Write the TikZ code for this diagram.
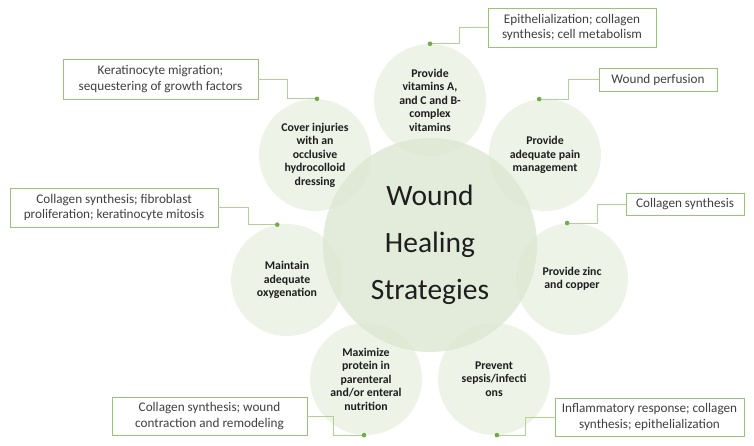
\documentclass[tikz,border=0pt]{standalone}
\usepackage{fontspec}
\setmainfont{Carlito}
\usepackage{tikz}
\usetikzlibrary{calc}
\definecolor{hubfill}{RGB}{222,232,212}
\definecolor{petalfill}{RGB}{232,240,225}
\definecolor{boxline}{RGB}{150,196,120}
\definecolor{linkline}{RGB}{176,210,152}
\definecolor{dotgreen}{RGB}{112,173,71}
\definecolor{inktext}{RGB}{30,30,30}

\begin{document}
\begin{tikzpicture}[x=1pt, y=-1pt,
		petal/.style={circle, fill=petalfill, fill opacity=0.8, text opacity=1, minimum size=112pt, inner sep=0pt, align=center, text=inktext, font=\fontsize{11.8}{13.5}\selectfont\bfseries},
		hub/.style={circle, fill=hubfill, fill opacity=0.85, text opacity=1, minimum size=214pt, inner sep=0pt, align=center, text=inktext, font=\fontsize{29.5}{47}\selectfont},
		infobox/.style={draw=boxline, line width=0.8pt, fill=white, inner sep=0pt, align=center, text=inktext!85, font=\fontsize{13.2}{15.5}\selectfont},
		link/.style={linkline, line width=0.7pt}]
		
		\useasboundingbox (0,0) rectangle (754,446);
		
		% petals round the hub
		\node[petal] (vit) at (430,100) {Provide\\vitamins A,\\and C and B-\\complex\\vitamins};
		\node[petal] (pain) at (545,155) {Provide\\adequate pain\\management};
		\node[petal] (zinc) at (572,279) {Provide zinc\\and copper};
		\node[petal] (sepsis) at (494,379) {Prevent\\sepsis/infecti\\ons};
		\node[petal] (protein) at (366,379) {Maximize\\protein in\\parenteral\\and/or enteral\\nutrition};
		\node[petal] (oxy) at (287,280) {Maintain\\adequate\\oxygenation};
		\node[petal] (cover) at (315,155) {Cover injuries\\with an\\occlusive\\hydrocolloid\\dressing};
		
		% hub
		\node[hub] (hub) at (430,245) {Wound\\Healing\\Strategies};
		
		% dots on the petals
		\coordinate (dvit) at (vit.90);
		\coordinate (dpain) at (pain.96);
		\coordinate (dzinc) at (zinc.95);
		\coordinate (dsepsis) at (sepsis.-87);
		\coordinate (dprotein) at (protein.-92);
		\coordinate (doxy) at (oxy.100);
		\coordinate (dcover) at (cover.88);
		
		% boxes
		\node[infobox, minimum width=168pt, minimum height=39pt] (bvit) at (572,27.5) {Epithelialization; collagen\\synthesis; cell metabolism};
		\node[infobox, minimum width=118pt, minimum height=23pt] (bpain) at (658,79.5) {Wound perfusion};
		\node[infobox, minimum width=118pt, minimum height=22pt] (bzinc) at (685,204) {Collagen synthesis};
		\node[infobox, minimum width=189pt, minimum height=38pt] (bsepsis) at (649.5,417) {Inflammatory response; collagen\\synthesis; epithelialization};
		\node[infobox, minimum width=195pt, minimum height=38pt] (bprotein) at (209.5,416) {Collagen synthesis; wound\\contraction and remodeling};
		\node[infobox, minimum width=208pt, minimum height=39pt] (boxy) at (114,207.5) {Collagen synthesis; fibroblast\\proliferation; keratinocyte mitosis};
		\node[infobox, minimum width=195pt, minimum height=40pt] (bcover) at (160.5,79) {Keratinocyte migration;\\sequestering of growth factors};
		
		% elbow links
		\begin{scope}[link]
			\draw (dvit) -- ++(29,0) |- (bvit.west);
			\draw (dpain) -- ++(29,0) |- (bpain.west);
			\draw (dzinc) -- ++(30,0) |- (bzinc.west);
			\draw (dsepsis) -- ++(28,0) |- (bsepsis.west);
			\draw (bprotein.east) -- ++(26,0) |- (dprotein);
			\draw (boxy.east) -- ++(30,0) |- (doxy);
			\draw (bcover.east) -- ++(29,0) |- (dcover);
		\end{scope}
		
		% end dots
		\fill[dotgreen] (dvit) circle (2.3pt);
		\fill[dotgreen] (dpain) circle (2.3pt);
		\fill[dotgreen] (dzinc) circle (2.3pt);
		\fill[dotgreen] (dsepsis) circle (2.3pt);
		\fill[dotgreen] (dprotein) circle (2.3pt);
		\fill[dotgreen] (doxy) circle (2.3pt);
		\fill[dotgreen] (dcover) circle (2.3pt);
		
	\end{tikzpicture}
\end{document}
